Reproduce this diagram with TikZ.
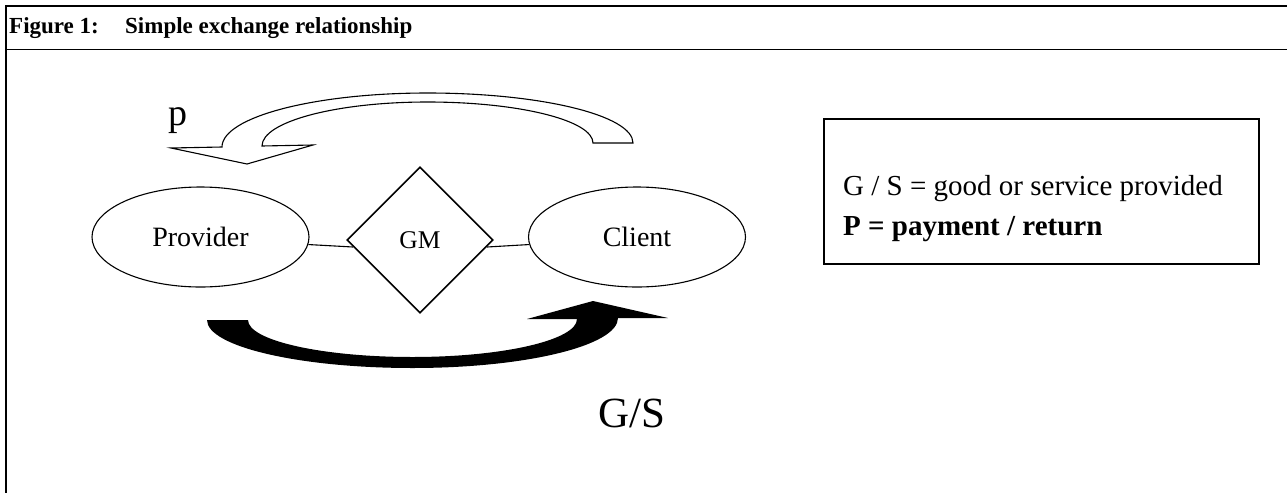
\documentclass[tikz,border=0pt]{standalone}
\usepackage{fontspec}
\setmainfont{Liberation Serif}
\usetikzlibrary{shapes.geometric}
\begin{document}
\begin{tikzpicture}[x=1pt,y=-1pt,
  rule/.style={line width=1.8pt},
  party/.style={ellipse,draw,line width=1.1pt,minimum width=217pt,minimum height=100pt,
    inner sep=0pt,font=\fontsize{28}{32}\selectfont},
  medium/.style={diamond,draw,line width=1.6pt,minimum width=146pt,minimum height=146pt,
    inner sep=0pt,font=\fontsize{25.5}{30}\selectfont},
  link/.style={line width=1.1pt},
  flow/.style={line width=1.1pt,line join=miter},
  label/.style={anchor=base west,inner sep=0pt},
  caption/.style={label,font=\bfseries\fontsize{23}{27}\selectfont}]
\useasboundingbox (0,0) rectangle (1287,493);

% frame and caption bar
\draw[rule] (1287,5.8) -- (5.8,5.8) -- (5.8,493);
\draw[rule] (5.8,49.5) -- (1287,49.5);
\node[caption] (fignum) at (9,33.5) {Figure 1:};
\node[caption] (figtitle) at (125,33.5) {Simple exchange relationship};

% the two parties and the medium between them
\node[party] (prov) at (200.5,237) {Provider};
\node[medium] (gm) at (420,240) {GM};
\node[party] (cli) at (637,237) {Client};
\draw[link] (prov.-4.8) -- (gm.186);
\draw[link] (gm.-6) -- (cli.184.7);

% payment: hollow block arrow from client back to provider
\draw[flow,fill=white] (313,145) -- (262,146)
  .. controls (262,121.7) and (336.1,102) .. (427.5,102)
  .. controls (518.9,102) and (593,120.4) .. (593,143)
  -- (633,143)
  .. controls (633,115.4) and (541,93) .. (427.5,93)
  .. controls (314,93) and (222,117.2) .. (222,147)
  -- (171,148) -- (247,164) -- cycle;
\node[label,font=\fontsize{38}{42}\selectfont] (plabel) at (168,125) {p};

% good / service: solid block arrow from provider to client
\fill[flow] (207,320) -- (248,320)
  .. controls (248,340.4) and (321.6,357) .. (412.5,357)
  .. controls (503.4,357) and (577,340) .. (577,319)
  -- (527,319) -- (593,301) -- (668,318) -- (618,318)
  .. controls (618,345.6) and (526,368) .. (412.5,368)
  .. controls (299,368) and (207,346.5) .. (207,320) -- cycle;
\node[label,font=\fontsize{43}{48}\selectfont] (gslabel) at (598,427) {G/S};

% legend
\node[draw,line width=1.2pt,minimum width=435pt,minimum height=145pt,inner sep=0pt] (legend) at (1041.5,191.5) {};
\node[label,font=\fontsize{29}{34}\selectfont] (gsdef) at (843,195) {G / S = good or service provided};
\node[label,font=\fontsize{29}{34}\selectfont\bfseries] (pdef) at (843,235) {P = payment / return};
\end{tikzpicture}
\end{document}
